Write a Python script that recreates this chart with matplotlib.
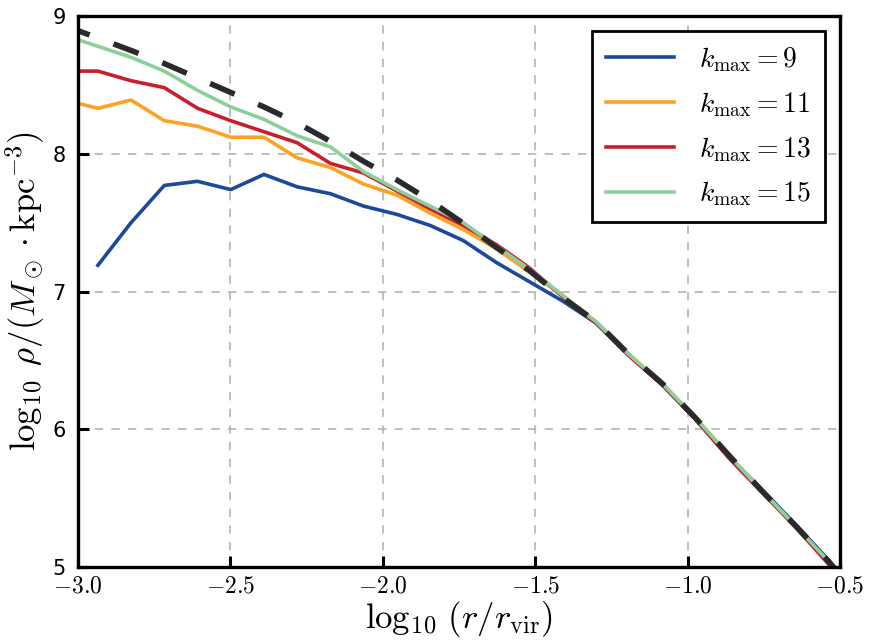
import numpy as np
import matplotlib
matplotlib.use("Agg")
import matplotlib.pyplot as plt
from matplotlib.ticker import FuncFormatter, FixedLocator

plt.rcParams['mathtext.fontset'] = 'cm'

# log10(r/r_vir) bins
log_r = [-3.044, -2.935, -2.826, -2.717, -2.608, -2.499, -2.390, -2.281, -2.172,
         -2.063, -1.954, -1.845, -1.736, -1.627, -1.518, -1.409, -1.300, -1.191,
         -1.082, -0.973, -0.864, -0.755, -0.646, -0.537, -0.428]

# density profiles, log10 rho
rho_k9 = [np.nan, 7.19, 7.50, 7.77, 7.80, 7.74, 7.85, 7.76, 7.71,
          7.62, 7.56, 7.48, 7.37, 7.21, 7.07, 6.93, 6.77, 6.54,
          6.32, 6.07, 5.80, 5.56, 5.31, 5.05, 4.76]
rho_k11 = [8.39, 8.33, 8.39, 8.24, 8.20, 8.12, 8.12, 7.97, 7.90,
           7.78, 7.70, 7.57, 7.45, 7.31, 7.14, 6.97, 6.78, 6.54,
           6.33, 6.08, 5.81, 5.55, 5.30, 5.03, 4.74]
rho_k13 = [8.60, 8.60, 8.53, 8.48, 8.33, 8.24, 8.16, 8.08, 7.93,
           7.86, 7.73, 7.60, 7.48, 7.34, 7.17, 6.96, 6.77, 6.53,
           6.32, 6.07, 5.79, 5.54, 5.29, 5.02, 4.72]
rho_k15 = [8.86, 8.78, 8.70, 8.60, 8.46, 8.34, 8.25, 8.13, 8.05,
           7.87, 7.74, 7.62, 7.50, 7.33, 7.16, 6.97, 6.78, 6.54,
           6.33, 6.08, 5.81, 5.55, 5.30, 5.04, 4.75]
rho_fit = [8.93, 8.84, 8.75, 8.655, 8.55, 8.445, 8.34, 8.224, 8.09,
           7.945, 7.81, 7.66, 7.495, 7.32, 7.15, 6.955, 6.78, 6.54,
           6.33, 6.08, 5.81, 5.55, 5.30, 5.04, 4.75]

labels = [r'$k_{\rm max}=9$', r'$k_{\rm max}=11$', r'$k_{\rm max}=13$', r'$k_{\rm max}=15$']
colors = ['#1a4b9b', '#fca326', '#c8202b', '#8dcf9a']

fig = plt.figure(figsize=(8.69, 6.4), dpi=100)
ax = fig.add_axes([0.0898, 0.114, 0.8768, 0.861])

for rho, lab, c in zip([rho_k9, rho_k11, rho_k13, rho_k15], labels, colors):
    ax.plot(log_r, rho, color=c, lw=2.6, label=lab)
ax.plot(log_r, rho_fit, color='#2a2a2a', lw=4, dashes=(4.8, 4.6))

ax.set_xlim(-3.0, -0.5)
ax.set_ylim(5, 9)
ax.xaxis.set_major_locator(FixedLocator([-3.0, -2.5, -2.0, -1.5, -1.0, -0.5]))
ax.yaxis.set_major_locator(FixedLocator([5, 6, 7, 8, 9]))
ax.xaxis.set_major_formatter(FuncFormatter(lambda v, p: r'$%.1f$' % v))
ax.yaxis.set_major_formatter(FuncFormatter(lambda v, p: '%d' % v))

ax.grid(True, color='#b4b4b4', linestyle=(0, (5, 5)), lw=1.2)
for s in ax.spines.values():
    s.set_linewidth(2.4)
ax.tick_params(direction='in', length=8, width=2.2, top=False, right=False)
ax.tick_params(axis='x', labelsize=17, pad=5)
ax.tick_params(axis='y', labelsize=15, pad=9)

ax.set_xlabel(r'$\log_{10}\,(r/r_{\rm vir})$', fontsize=25, labelpad=1)
ax.set_ylabel(r'$\log_{10}\;\rho/(M_\odot\cdot{\rm kpc}^{-3})$', fontsize=25, labelpad=4)

leg = ax.legend(loc='upper right', fontsize=20, fancybox=False, framealpha=1,
                handlelength=2.45, handletextpad=0.9, labelspacing=0.58,
                borderpad=0.5, borderaxespad=0.55)
leg.get_frame().set_edgecolor('black')
leg.get_frame().set_linewidth(2.0)

fig.savefig('out.png', dpi=100)
